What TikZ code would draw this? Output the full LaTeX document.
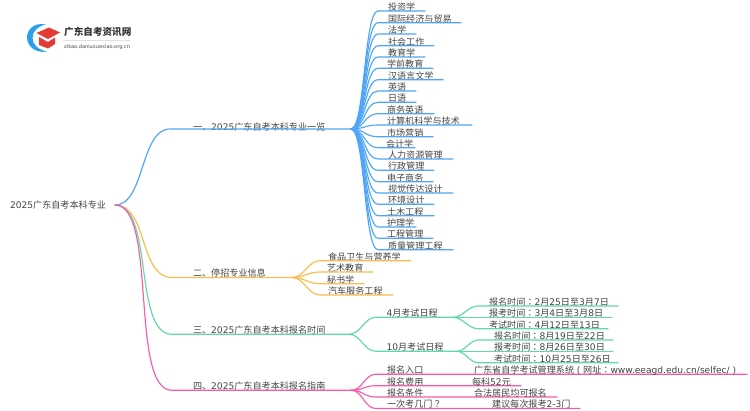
\documentclass[tikz,border=0pt]{standalone}
\usepackage{fontspec}
\setmainfont{DejaVu Sans}
\newfontfamily\cjk{Noto Sans CJK SC}
\newfontfamily\cjktc{Noto Sans CJK TC}
\newcommand{\lt}[1]{{\fontspec{DejaVu Sans}#1}}
\newcommand{\pn}[1]{{\cjktc #1}}
\definecolor{cblue}{HTML}{4FA6F8}
\definecolor{corange}{HTML}{FDBB4A}
\definecolor{cgreen}{HTML}{5FDAA8}
\definecolor{cpink}{HTML}{FB5AA6}
\definecolor{ctext}{HTML}{444444}
\definecolor{logor}{HTML}{E53935}
\definecolor{logob}{HTML}{2AA0E8}
\tikzset{
  lab/.style={anchor=base west,inner sep=0pt,outer sep=0pt,text=ctext,font=\fontsize{9.1}{11}\selectfont\cjk},
  conn/.style={line width=1.15pt,line cap=round},
}
% \leaf{name}{text}{text x}{line y}{start x}{end x}{colour}{hub}{bend}
\newcommand{\leaf}[9]{%
  \node[lab] (#1) at (#3,#4-0.7) {#2};
  \coordinate (#1s) at (#5,#4);
  \coordinate (#1e) at (#6,#4);
  \draw[conn,#7] (#8) .. controls +(#9,0) and +(-#9,0) .. (#1s) -- (#1e);
}
\begin{document}
\begin{tikzpicture}[x=1pt,y=-1pt]
\useasboundingbox (0,0) rectangle (750,410);
\fill[white] (0,0) rectangle (750,410);
% logo
\fill[logob] (46,24.5) .. controls (34,22) and (26.5,30) .. (27,38) .. controls (27.5,46) and (35,53.5) .. (47,51.5) .. controls (39,50) and (32.5,45) .. (32.5,38) .. controls (32.5,31) and (38,26) .. (46,24.5) -- cycle;
\fill[logor] (36.5,33) -- (49,27.5) -- (60,32.5) -- (48,39) -- cycle;
\fill[logor] (39,37) -- (48,42) -- (55,37.5) -- (55,44) -- (48,48.5) -- (39,45) -- cycle;
\node[inner sep=0pt,anchor=base west,font=\fontsize{9.6}{11}\selectfont\cjk\bfseries,text=black!80] (logot) at (64,35) {广东自考资讯网};
\node[inner sep=0pt,anchor=base west,font=\fontsize{5.05}{6}\selectfont,text=black!70] (logos) at (64,48) {zikao.daniuxuexiao.org.cn};
\draw[black!12,line width=.5pt] (63,40.3) -- (130,40.3);
% root
\node[lab] (root) at (10,208.8) {\lt{2025}广东自考本科专业};
\coordinate (rootr) at (115,205);
% main branches
\node[lab] (a) at (193,130.2) {一、\lt{2025}广东自考本科专业一览};
\coordinate (as) at (170,129); \coordinate (ah) at (351,129);
\draw[conn,cblue] (rootr) .. controls +(30,0) and +(-30,0) .. (as) -- (ah);
\node[lab] (b) at (193,276.8) {二、停招专业信息};
\coordinate (bs) at (172,277.5); \coordinate (bh) at (292,277.5);
\draw[conn,corange] (rootr) .. controls +(33,0) and +(-33,0) .. (bs) -- (bh);
\node[lab] (c) at (193,333.6) {三、\lt{2025}广东自考本科报名时间};
\coordinate (cs) at (172,334.3); \coordinate (ch) at (349,334.3);
\draw[conn,cgreen] (rootr) .. controls +(39,0) and +(-39,0) .. (cs) -- (ch);
\node[lab] (d) at (193,389.6) {四、\lt{2025}广东自考本科报名指南};
\coordinate (ds) at (172,390.3); \coordinate (dh) at (351,390.3);
\draw[conn,cpink] (rootr) .. controls +(43,0) and +(-43,0) .. (ds) -- (dh);
% blue leaves
\leaf{a1}{投资学}{388}{11}{378}{425}{cblue}{ah}{14}
\leaf{a2}{国际经济与贸易}{388}{22.7}{378}{461}{cblue}{ah}{14}
\leaf{a3}{法学}{388}{34}{378}{416}{cblue}{ah}{14}
\leaf{a4}{社会工作}{388}{45.7}{378}{434}{cblue}{ah}{14}
\leaf{a5}{教育学}{388}{57}{378}{425}{cblue}{ah}{14}
\leaf{a6}{学前教育}{387}{68.3}{378}{433}{cblue}{ah}{14}
\leaf{a7}{汉语言文学}{388}{79.7}{378}{443}{cblue}{ah}{14}
\leaf{a8}{英语}{388}{91}{378}{416}{cblue}{ah}{14}
\leaf{a9}{日语}{388}{102.3}{378}{416}{cblue}{ah}{14}
\leaf{a10}{商务英语}{387}{113.7}{378}{434}{cblue}{ah}{14}
\leaf{a11}{计算机科学与技术}{387}{125}{378}{472}{cblue}{ah}{14}
\leaf{a12}{市场营销}{387}{136.7}{378}{433}{cblue}{ah}{14}
\leaf{a13}{会计学}{386}{147.7}{378}{415}{cblue}{ah}{14}
\leaf{a14}{人力资源管理}{388}{159}{378}{453}{cblue}{ah}{14}
\leaf{a15}{行政管理}{388}{170.3}{378}{434}{cblue}{ah}{14}
\leaf{a16}{电子商务}{387}{181.7}{378}{433}{cblue}{ah}{14}
\leaf{a17}{视觉传达设计}{388}{193}{378}{453}{cblue}{ah}{14}
\leaf{a18}{环境设计}{388}{204.3}{378}{434}{cblue}{ah}{14}
\leaf{a19}{土木工程}{387}{215.7}{378}{434}{cblue}{ah}{14}
\leaf{a20}{护理学}{387}{227}{378}{416}{cblue}{ah}{14}
\leaf{a21}{工程管理}{387}{238.3}{378}{433}{cblue}{ah}{14}
\leaf{a22}{质量管理工程}{388}{249.7}{378}{453}{cblue}{ah}{14}
% orange leaves
\leaf{b1}{食品卫生与营养学}{328}{260.7}{320}{411}{corange}{bh}{12}
\leaf{b2}{艺术教育}{327}{272}{320}{373}{corange}{bh}{12}
\leaf{b3}{秘书学}{327}{283.7}{320}{364}{corange}{bh}{12}
\leaf{b4}{汽车服务工程}{328}{295}{320}{393}{corange}{bh}{12}
% green
\leaf{c1}{\lt{4}月考试日程}{386.5}{317.3}{376}{453}{cgreen}{ch}{12}
\leaf{c2}{\lt{10}月考试日程}{386.5}{351.3}{376}{457}{cgreen}{ch}{12}
\coordinate (c1h) at (453,317.3);
\coordinate (c2h) at (457,351.3);
\leaf{c11}{报名时间\pn{：}\lt{2}月\lt{25}日至\lt{3}月\lt{7}日}{489}{306}{478}{618}{cgreen}{c1h}{10}
\leaf{c12}{报考时间\pn{：}\lt{3}月\lt{4}日至\lt{3}月\lt{8}日}{489}{317.3}{478}{612}{cgreen}{c1h}{10}
\leaf{c13}{考试时间\pn{：}\lt{4}月\lt{12}日至\lt{13}日}{489}{328.7}{478}{608}{cgreen}{c1h}{10}
\leaf{c21}{报名时间\pn{：}\lt{8}月\lt{19}日至\lt{22}日}{494}{340}{478}{613}{cgreen}{c2h}{8}
\leaf{c22}{报考时间\pn{：}\lt{8}月\lt{26}日至\lt{30}日}{494}{351.3}{478}{613}{cgreen}{c2h}{8}
\leaf{c23}{考试时间\pn{：}\lt{10}月\lt{25}日至\lt{26}日}{494}{362.7}{478}{618}{cgreen}{c2h}{8}
% pink
\leaf{d1}{报名入口}{387}{374.3}{376}{747}{cpink}{dh}{12}
\leaf{d2}{报名费用}{387}{385.7}{376}{521}{cpink}{dh}{12}
\leaf{d3}{报名条件}{387}{397}{376}{557}{cpink}{dh}{12}
\leaf{d4}{一次考几门\pn{？}}{387}{408.5}{376}{580}{cpink}{dh}{12}
\node[lab] (d1a) at (474,373.6) {广东省自学考试管理系统\makebox[1em][c]{\lt{(}}网址\pn{：}\lt{www.eeagd.edu.cn/selfec/}\makebox[1em][c]{\lt{)}}};
\node[lab] (d2a) at (472,385) {每科\lt{52}元};
\node[lab] (d3a) at (474,396.3) {合法居民均可报名};
\node[lab] (d4a) at (492,407.8) {建议每次报考\lt{2-3}门};
\end{tikzpicture}
\end{document}
